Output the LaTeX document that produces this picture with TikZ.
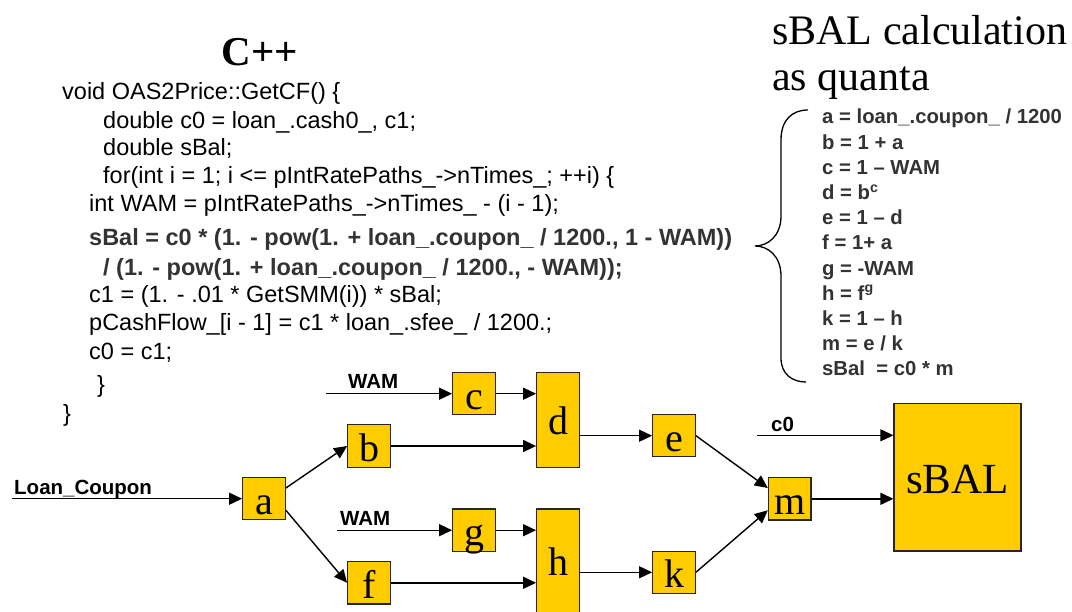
\documentclass[tikz,border=0pt]{standalone}
\usepackage{fontspec}
\setmainfont{Liberation Serif}
\newfontfamily\codefont{Liberation Sans}
\usetikzlibrary{arrows.meta, calc}
\definecolor{quanta}{HTML}{FFCC00}
\definecolor{codegrey}{HTML}{333333}

\begin{document}
\begin{tikzpicture}[x=1pt, y=-1pt,
    quantum/.style={rectangle, draw=black!85, line width=1.2pt, fill=quanta, minimum width=42.6pt, minimum height=42.3pt, inner sep=0pt, text height=36.8pt, text depth=5.5pt, font=\fontsize{40}{40}\selectfont},
    tallquantum/.style={quantum, minimum height=94.6pt, text height=62pt, text depth=32.6pt},
    code/.style={anchor=base west, inner sep=0pt, font=\codefont\fontsize{23.5}{23.5}\selectfont},
    codebf/.style={code, font=\codefont\bfseries\fontsize{23.5}{23.5}\selectfont, text=codegrey},
    eq/.style={anchor=base west, inner sep=0pt, font=\codefont\bfseries\fontsize{20.3}{20.3}\selectfont, text=codegrey},
    inlbl/.style={anchor=base west, inner sep=0pt, font=\codefont\bfseries\fontsize{20.5}{20.5}\selectfont},
    title/.style={anchor=base west, inner sep=0pt, font=\fontsize{42}{42}\selectfont},
    flow/.style={-{Triangle[length=13pt,width=12pt]}, line width=1.4pt}
]
\useasboundingbox (0,0) rectangle (1072,612);

% C++ listing
\node[inner sep=0pt, anchor=base, font=\bfseries\fontsize{41}{41}\selectfont] (cpp) at (260,66) {C++};
\node[code] (code1) at (62,100) {void OAS2Price::GetCF() \{};
\node[code] (code2) at (103,129) {double c0 = loan\_.cash0\_, c1;};
\node[code] (code3) at (103,156) {double sBal;};
\node[code] (code4) at (103,183.5) {for(int i = 1; i <= pIntRatePaths\_->nTimes\_; ++i) \{};
\node[code] (code5) at (89,212) {int WAM = pIntRatePaths\_->nTimes\_ - (i - 1);};
\node[codebf] (code6) at (89,246) {sBal = c0 * (1. - pow(1. + loan\_.coupon\_ / 1200., 1 - WAM))};
\node[codebf] (code7) at (103,275.2) {/ (1. - pow(1. + loan\_.coupon\_ / 1200., - WAM));};
\node[code] (code8) at (89,303) {c1 = (1. - .01 * GetSMM(i)) * sBal;};
\node[code] (code9) at (89,331) {pCashFlow\_[i - 1] = c1 * loan\_.sfee\_ / 1200.;};
\node[code] (code10) at (89,360) {c0 = c1;};
\node[code] (code11) at (97,393) {\}};
\node[code] (code12) at (63,421.5) {\}};

% quanta list
\node[title] (calc1) at (772,45) {sBAL calculation};
\node[title] (calc2) at (772,91) {as quanta};
\draw[line width=1.3pt] (808,110) .. controls (792,110) and (781,120) .. (781,140) -- (781,216)
    .. controls (781,236) and (768,246) .. (755,246) .. controls (768,246) and (781,256) .. (781,276)
    -- (781,358) .. controls (781,374) and (792,382) .. (806,382);
\node[eq] (eqa) at (822,124) {a = loan\_.coupon\_ / 1200};
\node[eq] (eqb) at (822,149.2) {b = 1 + a};
\node[eq] (eqc) at (822,174.4) {c = 1 – WAM};
\node[eq] (eqd) at (822,199.6) {d = b\textsuperscript{c}};
\node[eq] (eqe) at (822,224.8) {e = 1 – d};
\node[eq] (eqf) at (822,250) {f = 1+ a};
\node[eq] (eqg) at (822,275.2) {g = -WAM};
\node[eq] (eqh) at (822,300.4) {h = f\textsuperscript{g}};
\node[eq] (eqk) at (822,325.6) {k = 1 – h};
\node[eq] (eqm) at (822,350.8) {m = e / k};
\node[eq] (eqs) at (822,376) {sBal\ \ = c0 * m};

% dataflow of quanta
\node[quantum] (a) at (264,498.7) {a};
\node[quantum] (b) at (369,446) {b};
\node[quantum] (c) at (474,393.7) {c};
\node[tallquantum] (d) at (558,420) {d};
\node[quantum] (g) at (474,530.2) {g};
\node[quantum] (f) at (369,582.8) {f};
\node[tallquantum, minimum height=105pt, text height=66.3pt, text depth=38.7pt] (h) at (558,561.5) {h};
\node[quantum] (e) at (674,435.7) {e};
\node[quantum] (k) at (674,572.3) {k};
\node[quantum] (m) at (789.7,498.8) {m};
\node[quantum, minimum width=127pt, minimum height=147.3pt, text height=89.7pt, text depth=57.6pt, font=\fontsize{43}{43}\selectfont] (sbal) at (957.5,477.3) {sBAL};

\coordinate (lcin) at (12,498.7);
\coordinate (wamtop) at (326,393.7);
\coordinate (wambot) at (337,530.2);
\coordinate (c0in) at (757,435.3);
\node[inlbl] (lclbl) at (14,494) {Loan\_Coupon};
\node[inlbl] (wamtoplbl) at (348,388.7) {WAM};
\node[inlbl] (wambotlbl) at (340,525.3) {WAM};
\node[inlbl] (c0lbl) at (771,431.3) {c0};

\draw[flow] (lcin) -- (a.west);
\draw[flow] ([yshift=10.7pt]a.east) -- (b.west);
\draw[flow] ([yshift=-11.6pt]a.east) -- (f.west);
\draw[flow] (wamtop) -- (c.west);
\draw[flow] (wambot) -- (g.west);
\draw[flow] (c.east) -- (c.east -| d.west);
\draw[flow] (b.east) -- (b.east -| d.west);
\draw[flow] (g.east) -- (g.east -| h.west);
\draw[flow] (f.east) -- (f.east -| h.west);
\draw[flow] (d.east |- e.west) -- (e.west);
\draw[flow] (h.east |- k.west) -- (k.west);
\draw[flow] (e.east) -- ([yshift=10.8pt]m.west);
\draw[flow] (k.east) -- ([yshift=-11.5pt]m.west);
\draw[flow] (m.east) -- (m.east -| sbal.west);
\draw[flow] (c0in) -- (c0in -| sbal.west);

\end{tikzpicture}
\end{document}
